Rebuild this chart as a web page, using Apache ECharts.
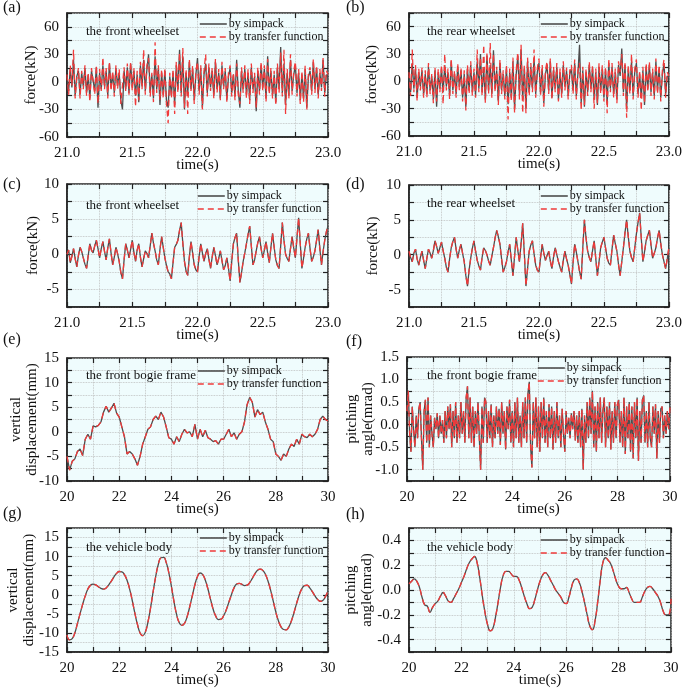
<!DOCTYPE html>
<html>
<head>
<meta charset="utf-8">
<script src="https://cdn.jsdelivr.net/npm/echarts@6/dist/echarts.min.js"></script>
<style>
html,body{margin:0;padding:0;background:#fff;}
#chart{width:685px;height:690px;}
</style>
</head>
<body>
<div id="chart"></div>
<script>
// ---------------- data ----------------
// sampling of the wheelset force signals (panels a-d)
const wheelStart = 21.0, wheelStep = 0.0125;
// sampling of the bogie / body signals (panels e-h)
const bodyStart = 20.0, bodyStepE = 0.1, bodyStepF = 0.05, bodyStepGH = 0.1;

const aGray = [5,-10,14,-6,24,-15,6,12,-14,10,
-5,15,-12,8,-18,12,2,-10,16,-28,
10,-8,18,-5,12,-15,20,-6,8,-12,
15,-4,10,-20,-30,12,-8,16,-12,20,
-6,12,-15,8,-22,18,-5,24,-10,14,
30,-12,8,-18,28,-8,15,-25,10,-14,
12,-20,-28,6,-15,10,-25,18,-8,35,
-12,28,-30,10,-15,22,-8,14,-20,8,
26,-10,15,-28,8,20,-12,16,-6,12,
-15,22,-8,10,-18,18,-5,12,-20,6,
15,-12,8,-16,24,-10,-28,12,-8,14,
-14,10,-20,16,-8,6,-32,12,-10,18,
-6,14,-18,28,-10,12,-15,8,-22,16,
-8,38,-12,20,-25,10,-15,24,-10,8,
18,-12,10,-20,8,-18,14,-28,6,12,
-10,22,-8,15,-14,10,-6,24,-12,8,
5];
const aRed = [8,-14,18,-4,35,-18,4,15,-18,12,
-8,18,-15,10,-22,15,0,-14,18,-24,
14,-10,27,-8,15,-18,22,-10,12,-16,
18,-8,14,-24,-26,16,-10,20,-14,22,
-10,15,-27,12,-20,22,-8,35,-14,18,
26,-16,10,-22,43,-12,18,-20,14,-18,
15,-24,-45,10,-18,14,-35,22,-12,32,
-16,37,-28,14,-35,25,-10,18,-24,12,
22,-14,18,-30,12,30,-16,20,-10,15,
-18,25,-12,14,-20,22,-8,15,-22,10,
18,-16,10,-20,20,-14,-24,16,-12,18,
-18,14,-24,20,-12,10,-28,16,-14,22,
-10,18,-22,25,-14,15,-18,12,-26,20,
-12,32,-16,35,-35,14,-18,30,-14,12,
22,-16,14,-24,12,-22,18,-30,10,16,
-14,25,-12,18,-18,14,-10,26,-16,12,
8];
const bGray = [6,-12,20,-8,14,-18,10,-6,12,-15,
8,-14,16,-10,6,-20,12,-28,10,-8,
14,-12,18,-6,10,-16,22,-10,8,-14,
16,-6,12,-18,8,-28,14,-10,18,-12,
10,-15,22,-8,30,-12,14,-20,28,-10,
18,-14,34,-8,12,-22,20,-10,8,-16,
14,-25,10,-18,22,-30,8,28,-15,35,
-20,14,-30,22,-12,16,-8,25,-14,10,
20,-12,14,-24,8,18,-10,22,-18,12,
-8,16,-20,10,-14,18,-6,12,-16,8,
14,-10,20,-16,8,40,-24,12,-28,10,
-12,18,-8,14,-20,10,-26,16,-10,14,
-18,12,-24,20,-8,16,-14,10,-20,18,
6,36,-12,18,-30,14,-10,22,-16,10,
20,-14,8,-18,12,-26,16,-8,18,-12,
10,-16,22,-10,14,-18,8,20,-14,6,
4];
const bRed = [10,-16,35,-12,18,-22,14,-10,15,-18,
12,-18,20,-14,8,-24,15,-22,14,-12,
18,-25,30,-10,14,-20,25,-14,12,-18,
20,-10,15,-22,12,-32,18,-14,22,-16,
14,-18,35,-12,26,-16,40,-24,32,-14,
42,-18,30,-12,16,-26,24,-14,12,-20,
18,-42,14,-22,26,-35,12,32,-20,40,
-35,18,-35,26,-16,20,-12,35,-18,14,
25,-16,18,-28,12,22,-14,25,-20,16,
-12,20,-22,14,-18,22,-10,15,-20,12,
18,-14,24,-20,12,20,-32,16,-26,14,
-16,22,-12,18,-30,14,-24,20,-14,18,
-22,16,-35,25,-12,20,-18,14,-24,22,
10,30,-16,22,-40,18,-14,30,-20,14,
24,-18,12,-32,16,-24,20,-12,22,-16,
14,-20,25,-14,18,-22,12,24,-18,10,
6];
const cGray = [0,0.6,-1.2,-0.3,0.8,-0.6,-1.8,-0.2,1.0,0.4,-0.5,-1.4,-2.0,-0.2,1.5,0.6,0.2,1.2,2.0,0.8,
-0.5,0.8,1.8,0.4,-0.8,0.9,2.2,0.2,-1.5,-0.4,1.0,0.1,-1.0,-2.6,-3.5,-0.8,1.5,0.6,-0.5,0.7,
2.0,0.3,-1.0,0.6,1.5,-0.4,-1.8,-0.6,0.5,0.1,-0.5,1.2,3.0,1.6,0.5,-0.8,-1.5,0.7,2.5,1.0,
-0.5,-1.6,-2.5,-2.8,-3.5,-1.2,1.0,1.4,2.0,3.4,4.5,1.6,-1.0,-2.4,-3.0,-0.4,1.8,0.2,-1.5,-2.2,
-2.5,-0.3,1.5,0.2,-1.0,0.1,0.8,-0.7,-2.0,-0.4,1.0,-0.2,-1.5,-0.6,0.5,-0.9,-2.2,-1.6,-0.5,-2.0,
-3.8,-1.0,1.5,2.4,3.0,-0.8,-4.0,-2.6,-1.0,0.2,1.5,2.8,4.0,1.2,-1.5,-0.8,0.5,1.7,2.5,0.8,
-0.5,0.6,1.8,0.2,-1.2,1.0,3.0,1.0,-0.8,-1.6,-2.0,1.2,4.5,2.0,0.0,-0.6,-1.0,0.8,2.5,0.9,
-0.5,2.4,5.2,1.5,-2.0,-0.6,1.0,2.2,3.0,0.8,-1.0,-0.4,0.5,2.0,3.5,0.8,-1.5,0.4,2.0,3.2,
4.0];
const cRed = cGray;
const dGray = [0.5,-0.4,-1.0,0.2,0.8,-0.6,-1.5,-0.4,0.5,-0.8,-2.0,-0.5,0.8,0.2,-0.5,0.6,2.0,1.2,0.2,1.0,
1.8,0.6,-0.5,-1.8,-2.5,-0.6,1.0,1.9,2.5,0.8,-0.5,0.7,1.5,0.2,-1.0,-3.0,-4.5,-2.2,-0.5,0.9,
2.0,0.5,-0.8,-1.6,-2.2,-0.4,1.0,0.6,0.0,-0.9,-1.5,-0.2,1.0,2.4,3.5,2.6,1.5,-0.6,-2.5,-1.8,
-1.0,0.4,1.5,-0.8,-3.0,-0.2,2.5,0.6,-1.0,1.6,4.5,0.2,-4.5,-2.0,0.5,1.4,2.0,0.1,-1.5,-2.2,
-2.5,-0.4,1.5,0.2,-0.8,-0.1,0.5,-0.9,-2.0,-0.3,1.0,0.0,-1.0,-1.8,-2.5,-0.8,0.5,-0.6,-1.5,-2.8,
-4.2,-1.2,1.5,0.4,-1.0,-2.4,-3.5,1.0,5.0,2.4,0.5,-0.4,-1.0,0.6,2.0,-0.6,-3.0,-1.0,1.0,1.8,
2.5,1.0,-0.5,-1.2,-1.5,0.8,2.8,1.6,0.5,-1.4,-3.0,-1.0,1.0,3.2,5.0,2.6,0.5,-0.4,-1.0,1.0,
3.0,4.6,6.0,2.4,-1.0,0.4,2.0,2.8,3.5,1.4,-0.5,0.2,1.0,2.4,3.5,1.6,0.0,-1.0,-2.0,-0.6,
1.0];
const dRed = dGray;
const eGray = [-5.0,-7.8,-6.0,-5.5,-4.0,-3.5,-4.8,-1.5,-0.5,-1.5,
1.2,1.0,1.3,2.0,4.0,5.2,4.0,4.8,5.8,3.8,
3.0,1.0,-1.0,-4.5,-4.0,-4.5,-5.5,-6.8,-5.0,-2.5,
-1.0,0.5,1.0,2.5,3.2,2.5,4.0,3.0,1.0,-1.2,
-1.5,-2.5,-1.0,-2.0,-0.5,0.5,-0.2,0.0,-1.0,1.5,
-1.5,0.5,-1.0,0.3,-1.2,-1.5,-2.0,-1.8,-2.5,-1.5,
-1.5,-0.5,0.5,-1.0,-0.2,-1.5,-0.5,0.0,2.0,5.5,
7.0,6.0,3.0,4.5,3.5,4.0,2.0,0.5,-1.5,-2.0,
-4.5,-5.0,-5.8,-4.5,-5.0,-3.5,-2.5,-3.0,-1.5,-2.5,
-0.5,-1.0,-1.2,-0.5,-1.0,-0.5,0.5,2.5,3.2,2.5,
2.2];
const eRed = eGray;
const fGray = [0.3,0.75,-0.2,-0.6,0.4,-0.1,-0.5,0.2,-0.3,0.35,
0.5,-0.3,-1.0,0.3,0.55,-0.4,0.6,-0.5,0.2,-0.2,
-0.5,0.15,-0.1,0.25,-0.3,0.2,-0.2,0.1,-0.4,0.3,
-0.3,0.4,-0.1,0.45,-0.5,0.3,-0.3,0.5,-0.4,0.2,
-0.3,0.5,-0.2,0.3,-0.4,0.6,0.85,-0.3,0.6,-0.4,
0.4,-0.5,0.3,-0.2,0.5,-0.3,-1.0,0.4,-0.4,0.6,
0.5,-0.4,0.3,-0.3,0.45,-0.5,0.2,-0.3,0.4,-0.2,
0.35,-0.45,0.5,-0.2,0.3,-0.55,0.4,-0.1,0.55,-0.4,
0.3,-0.5,0.5,-0.3,0.6,-0.4,0.2,-0.5,0.5,-0.3,
0.6,-0.4,0.7,0.95,-0.5,-0.95,0.5,-0.3,0.6,-0.5,
0.4,-0.6,0.5,-0.3,0.6,-0.4,0.3,-0.5,0.45,-0.3,
0.4,-0.55,0.3,-0.4,0.5,-0.3,0.2,-0.5,0.35,-0.2,
-0.6,0.3,-0.2,0.15,-0.3,0.25,-0.1,0.3,-0.35,0.2,
-0.4,0.3,-0.5,0.35,-1.0,0.2,-0.4,0.5,-0.3,0.6,
-0.2,0.75,-0.5,0.4,-0.6,0.5,-0.3,0.6,-0.4,0.3,
0.6,-0.5,0.4,-0.3,0.5,-0.55,0.3,-0.4,0.5,-0.3,
0.45,0.55,-0.4,0.3,-0.5,0.6,-0.65,0.4,-0.3,0.5,
-0.6,0.4,-0.75,0.5,-0.3,0.6,-0.8,0.3,-0.4,0.55,
0.65,-0.4,0.3,-0.5,0.5,-0.3,-0.5,0.4,-0.2,0.45,
-0.75,0.3,-0.4,0.35,0.4,-0.3,0.2,-0.2,0.3,-0.1,
0.4];
const fRed = fGray;
const gGray = [-10.5,-11.8,-11.5,-10.0,-7.5,-5.0,-2.5,-0.3,1.5,2.5,
2.8,2.6,2.1,1.7,1.5,1.8,2.6,3.6,4.7,5.6,
6.1,6.0,5.3,3.8,1.5,-1.5,-4.8,-7.8,-10.0,-10.7,
-9.8,-7.2,-3.5,0.8,4.8,8.0,9.7,9.8,8.5,5.8,
2.2,-1.8,-5.2,-7.3,-8.0,-7.5,-5.8,-3.2,-0.3,2.6,
4.8,5.7,5.3,3.8,1.5,-1.2,-3.8,-5.6,-6.5,-6.4,
-5.5,-4.0,-2.0,0.0,1.8,2.8,3.0,2.7,2.4,2.5,
3.2,4.3,5.5,6.4,6.7,6.4,5.4,3.6,1.2,-1.6,
-4.5,-6.8,-8.4,-9.1,-9.2,-8.4,-6.8,-4.6,-2.2,0.0,
1.6,2.4,2.5,1.8,0.8,-0.3,-1.2,-1.7,-1.5,-0.5,
1.0];
const gRed = gGray;
const hGray = [0.05,0.07,0.09,0.07,0.02,-0.06,-0.12,-0.13,-0.18,-0.14,
-0.11,-0.09,-0.05,-0.02,-0.05,-0.09,-0.10,-0.07,-0.03,0.01,
0.06,0.11,0.17,0.22,0.25,0.27,0.22,0.10,-0.05,-0.18,
-0.28,-0.33,-0.31,-0.22,-0.10,0.03,0.12,0.15,0.15,0.13,
0.11,0.11,0.08,0.02,-0.05,-0.11,-0.15,-0.14,-0.08,0.00,
0.07,0.12,0.14,0.12,0.08,0.04,0.00,-0.03,-0.06,-0.10,
-0.11,-0.06,0.02,0.08,0.09,0.06,-0.01,-0.10,-0.20,-0.29,
-0.32,-0.25,-0.10,0.08,0.22,0.26,0.24,0.21,0.15,0.08,
0.03,0.01,0.01,0.02,-0.02,-0.07,-0.10,-0.10,-0.10,-0.06,
-0.01,0.02,0.03,0.01,-0.02,-0.05,-0.10,-0.17,-0.20,-0.20,
-0.07];
const hRed = hGray;

const panelLabels = ['(a)','(b)','(c)','(d)','(e)','(f)','(g)','(h)'];
const panelNotes = ['the front wheelset','the rear wheelset','the front wheelset','the rear wheelset',
  'the front bogie frame','the front bogie frame','the vehicle body','the vehicle body'];
const yNames = ['force(kN)','force(kN)','force(kN)','force(kN)',
  'vertical\ndisplacement(mm)','pitching\nangle(mrad)','vertical\ndisplacement(mm)','pitching\nangle(mrad)'];
const xName = 'time(s)';
const seriesNames = ['by simpack','by transfer function'];
// axis ranges: [min, max, gridStep, labelStep, decimals]
const xRanges = [[21,23,0.25,0.5,1],[21,23,0.25,0.5,1],[21,23,0.25,0.5,1],[21,23,0.25,0.5,1],
  [20,30,1,2,0],[20,30,1,2,0],[20,30,1,2,0],[20,30,1,2,0]];
const yRanges = [[-60,75,15,30,0],[-60,75,15,30,0],[-7.5,10,2.5,5,0],[-7.5,10,2.5,5,0],
  [-10,15,2.5,5,0],[-1.25,1.5,0.25,0.5,1],[-15,17.5,2.5,5,0],[-0.5,0.5,0.1,0.2,1]];

// ---------------- layout ----------------
const SERIF = 'Liberation Serif';
const layout = [
  {grid:[67,13,261,124], label:[3,0],   note:[86,25],  legend:[199,18], yGap:28, t0:wheelStart, dt:wheelStep, gray:aGray, red:aRed},
  {grid:[409,13,262,123], label:[346,0], note:[427,25], legend:[540,18], yGap:29, t0:wheelStart, dt:wheelStep, gray:bGray, red:bRed},
  {grid:[67,184,261,123], label:[3,177], note:[86,199], legend:[197,190], yGap:26, t0:wheelStart, dt:wheelStep, gray:cGray, red:cRed},
  {grid:[409,185,262,122], label:[346,177], note:[427,197], legend:[540,190], yGap:28, t0:wheelStart, dt:wheelStep, gray:dGray, red:dRed},
  {grid:[67,358,261,123], label:[3,332], note:[86,369], legend:[197,365], yGap:27, t0:bodyStart, dt:bodyStepE, gray:eGray, red:eRed},
  {grid:[407,357,263,124], label:[346,334], note:[427,369], legend:[537,362], yGap:31, t0:bodyStart, dt:bodyStepF, gray:fGray, red:fRed},
  {grid:[67,528,261,124], label:[3,506], note:[86,541], legend:[199,532], yGap:30, t0:bodyStart, dt:bodyStepGH, gray:gGray, red:gRed, smooth:true},
  {grid:[409,528,262,124], label:[346,507], note:[427,541], legend:[540,534], yGap:34, t0:bodyStart, dt:bodyStepGH, gray:hGray, red:hRed, smooth:true}
];

function fmt(step, dec){
  return function(v){
    const r = v/step;
    if (Math.abs(r - Math.round(r)) < 1e-6) return (Math.round(r)*step).toFixed(dec);
    return '';
  };
}
function pairs(t0, dt, arr){ return arr.map((v,i)=>[t0 + i*dt, v]); }

const AX = '#222';
const grids=[], xAxes=[], yAxes=[], series=[], titles=[], legends=[];
layout.forEach((p,i)=>{
  grids.push({left:p.grid[0], top:p.grid[1], width:p.grid[2], height:p.grid[3], show:true,
    backgroundColor:'#effcfd', borderColor:AX, borderWidth:1.5});
  const xr = xRanges[i], yr = yRanges[i];
  const tick = {show:true, inside:true, length:5, lineStyle:{color:AX, width:1.2}};
  const split = {show:true, lineStyle:{type:'dotted', color:'#b9b9b9', width:0.8}};
  xAxes.push({type:'value', gridIndex:i, min:xr[0], max:xr[1], interval:xr[2], position:'bottom',
    axisLine:{show:true, onZero:false, lineStyle:{color:AX, width:1.5}}, axisTick:tick,
    axisLabel:{margin:9, fontSize:15, fontFamily:SERIF, color:'#111', formatter:fmt(xr[3],xr[4]), showMinLabel:true, showMaxLabel:true},
    splitLine:split, name:xName, nameLocation:'middle', nameGap:21, nameMoveOverlap:false,
    nameTextStyle:{fontSize:15, fontFamily:SERIF, color:'#111'}});
  xAxes.push({type:'value', gridIndex:i, min:xr[0], max:xr[1], interval:xr[2], position:'top',
    axisLine:{show:false, onZero:false}, axisTick:tick, axisLabel:{show:false}, splitLine:{show:false}});
  yAxes.push({type:'value', gridIndex:i, min:yr[0], max:yr[1], interval:yr[2], position:'left',
    axisLine:{show:true, onZero:false, lineStyle:{color:AX, width:1.5}}, axisTick:tick,
    axisLabel:{margin:8, fontSize:15, fontFamily:SERIF, color:'#111', formatter:fmt(yr[3],yr[4]), showMinLabel:true, showMaxLabel:true},
    splitLine:split, name:yNames[i], nameLocation:'middle', nameGap:p.yGap, nameRotate:90, nameMoveOverlap:false,
    nameTextStyle:{fontSize:15, fontFamily:SERIF, color:'#111', lineHeight:16}});
  yAxes.push({type:'value', gridIndex:i, min:yr[0], max:yr[1], interval:yr[2], position:'right',
    axisLine:{show:false, onZero:false}, axisTick:tick, axisLabel:{show:false}, splitLine:{show:false}});
  series.push({name:seriesNames[0], type:'line', xAxisIndex:2*i, yAxisIndex:2*i, symbol:'none',
    smooth:!!p.smooth, data:pairs(p.t0,p.dt,p.gray), lineStyle:{color:'#4d4d4d', width:1.3}, itemStyle:{color:'#4d4d4d'}, z:2});
  series.push({name:seriesNames[1], type:'line', xAxisIndex:2*i, yAxisIndex:2*i, symbol:'none',
    smooth:!!p.smooth, data:pairs(p.t0,p.dt,p.red), lineStyle:{color:'#f03a3a', width:1.3, type:[6,4]}, itemStyle:{color:'#f03a3a'}, z:3});
  titles.push({text:panelLabels[i], left:p.label[0], top:p.label[1], padding:0,
    textStyle:{fontSize:16, fontWeight:'normal', fontFamily:SERIF, color:'#111'}});
  titles.push({text:panelNotes[i], left:p.note[0], top:p.note[1], padding:0,
    textStyle:{fontSize:13, fontWeight:'normal', fontFamily:SERIF, color:'#111'}});
  legends.push({orient:'vertical', left:p.legend[0], top:p.legend[1], padding:0, itemGap:1,
    itemWidth:27, itemHeight:14, selectedMode:false, data:seriesNames,
    itemStyle:{opacity:0},
    lineStyle:{width:1.6},
    textStyle:{fontSize:12, fontFamily:SERIF, color:'#111', padding:[0,0,0,-3]}});
});

const chart = echarts.init(document.getElementById('chart'), null, {renderer:'canvas'});
chart.setOption({
  animation:false,
  backgroundColor:'#fff',
  title:titles, legend:legends, grid:grids, xAxis:xAxes, yAxis:yAxes, series:series
});
</script>
</body>
</html>
